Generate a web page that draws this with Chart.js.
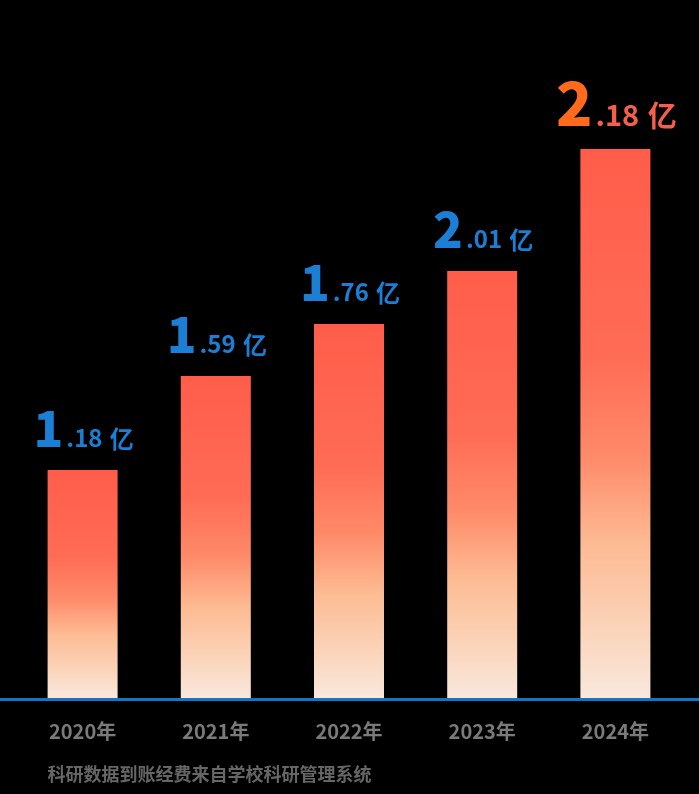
<!DOCTYPE html>
<html>
<head>
<meta charset="utf-8">
<script src="https://cdn.jsdelivr.net/npm/chart.js@4.4.1/dist/chart.umd.min.js"></script>
<style>
  html, body { margin: 0; padding: 0; background: #000; }
  #wrap { width: 699px; height: 794px; position: relative; }
</style>
</head>
<body>
<div id="wrap"><canvas id="funds"></canvas></div>
<script>
// years and funding (亿元)
const years = ['2020年', '2021年', '2022年', '2023年', '2024年'];
const fundsYi = [1.18, 1.59, 1.76, 2.01, 2.18];
// bar heights as drawn in the picture (not proportional to the values)
const barHeights = [1.070, 1.512, 1.756, 2.005, 2.577];
const footnote = '科研数据到账经费来自学校科研管理系统';

const CJK = '"Noto Sans CJK SC", "Noto Sans", sans-serif';

function barGradient(ctx) {
    const chart = ctx.chart;
    if (!chart.chartArea || ctx.type !== 'data') return '#ff6a52';
    const y = chart.scales.y;
    const top = y.getPixelForValue(ctx.raw);
    const base = y.getPixelForValue(0);
    const g = chart.ctx.createLinearGradient(0, top, 0, base);
    g.addColorStop(0, '#ff5d4a');
    g.addColorStop(0.38, '#ff6c56');
    g.addColorStop(0.56, '#fe8a69');
    g.addColorStop(0.72, '#fdbb93');
    g.addColorStop(0.87, '#fbd3b8');
    g.addColorStop(1, '#f9e8dd');
    return g;
}

// value labels over the bars, axis line and source note
const decorPlugin = {
    id: 'decor',
    afterDatasetsDraw(chart) {
        const ctx = chart.ctx;
        const meta = chart.getDatasetMeta(0);
        const maxIdx = fundsYi.indexOf(Math.max(...fundsYi));
        const area = chart.chartArea;

        // blue axis line across the whole width
        ctx.save();
        ctx.fillStyle = '#1872c6';
        ctx.fillRect(0, area.bottom, chart.width, 3);
        ctx.restore();

        meta.data.forEach((bar, i) => {
            const v = fundsYi[i];
            const whole = String(Math.floor(v));
            const frac = '.' + v.toFixed(2).split('.')[1];
            const hi = i === maxIdx;
            const bigSize = hi ? 60 : 49;
            const smallSize = hi ? 29 : 24;
            const bigFont = '800 ' + bigSize + 'px ' + CJK;
            const smallFont = '700 ' + smallSize + 'px ' + CJK;

            ctx.save();
            ctx.textBaseline = 'alphabetic';
            ctx.font = bigFont;
            const wBig = ctx.measureText(whole).width;
            ctx.font = smallFont;
            const wFrac = ctx.measureText(frac).width;
            const wUnit = ctx.measureText('亿').width;
            const gap1 = 3;
            const gap2 = smallSize * 0.3;
            const total = wBig + gap1 + wFrac + gap2 + wUnit;
            let x = bar.x + 1 - total / 2;
            const baseY = bar.y - 23;

            ctx.textAlign = 'left';
            ctx.font = bigFont;
            ctx.fillStyle = hi ? '#ff6a1c' : '#1b7fd6';
            ctx.fillText(whole, x, baseY);
            x += wBig + gap1;
            ctx.font = smallFont;
            ctx.fillStyle = hi ? '#f55f4d' : '#1b7fd6';
            ctx.fillText(frac, x, baseY);
            x += wFrac + gap2;
            ctx.fillText('亿', x, baseY + 1);
            ctx.restore();
        });

        // source note, aligned to first bar
        const first = meta.data[0];
        ctx.save();
        ctx.font = '700 18px ' + CJK;
        ctx.fillStyle = '#666666';
        ctx.textAlign = 'left';
        ctx.textBaseline = 'alphabetic';
        ctx.fillText(footnote, first.x - first.width / 2, chart.height - 13);
        ctx.restore();
    }
};

const canvas = document.getElementById('funds');
new Chart(canvas, {
    type: 'bar',
    data: {
        labels: years,
        datasets: [{
            data: barHeights,
            backgroundColor: barGradient,
            borderWidth: 0,
            barPercentage: 0.5255,
            categoryPercentage: 1
        }]
    },
    options: {
        responsive: true,
        maintainAspectRatio: false,
        animation: false,
        layout: { padding: { top: 59, left: 16, right: 17, bottom: 0 } },
        plugins: {
            legend: { display: false },
            tooltip: { enabled: false }
        },
        scales: {
            x: {
                grid: { display: false, drawTicks: false },
                border: { display: false },
                ticks: {
                    color: '#7a7a7a',
                    font: { family: CJK, size: 20, weight: '700' },
                    padding: 21
                },
                afterFit(scale) { scale.height = 96; }
            },
            y: {
                display: false,
                min: 0,
                max: 3
            }
        }
    },
    plugins: [decorPlugin]
});
</script>
</body>
</html>
